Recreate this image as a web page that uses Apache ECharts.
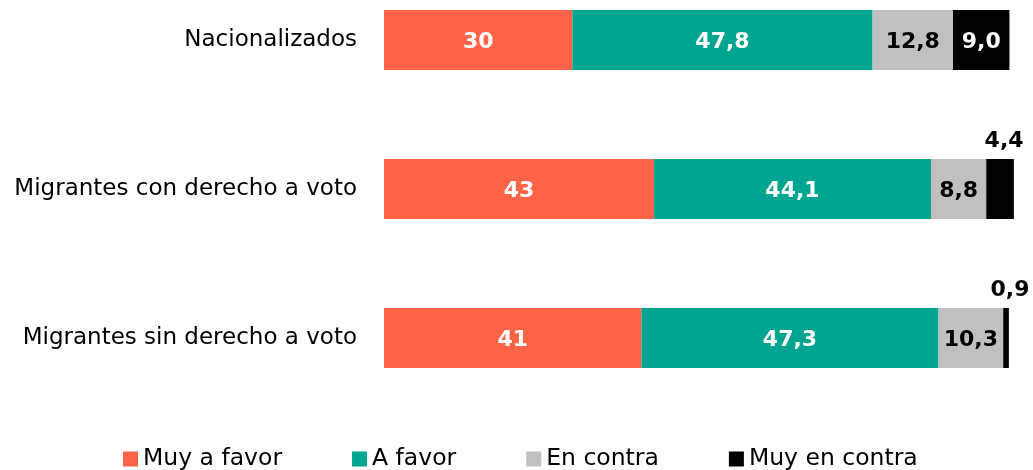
<!DOCTYPE html>
<html>
<head>
<meta charset="utf-8">
<script src="https://cdn.jsdelivr.net/npm/echarts@6/dist/echarts.min.js"></script>
<style>html,body{margin:0;padding:0;background:#fff}#c{width:1033px;height:470px}</style>
</head>
<body>
<div id="c"></div>
<script>
const categories = ['Nacionalizados', 'Migrantes con derecho a voto', 'Migrantes sin derecho a voto'];
const seriesNames = ['Muy a favor', 'A favor', 'En contra', 'Muy en contra'];
const muyAFavor = [30, 43, 41];
const aFavor = [47.8, 44.1, 47.3];
const enContra = [12.8, 8.8, 10.3];
const muyEnContra = [9.0, 4.4, 0.9];

const colors = ['#FF6347', '#00A591', '#C0C0C0', '#000000'];
const labelColors = ['#ffffff', '#ffffff', '#000000', '#ffffff'];
const values = [muyAFavor, aFavor, enContra, muyEnContra];
const FONT = 'DejaVu Sans';

function fmt(v, si) {
  return si === 0 ? String(Math.round(v)) : v.toFixed(1).replace('.', ',');
}

const series = values.map((arr, si) => ({
  name: seriesNames[si],
  type: 'bar',
  stack: 'total',
  barWidth: 60,
  clip: false,
  itemStyle: { color: colors[si] },
  label: {
    show: true,
    position: 'inside',
    color: labelColors[si],
    fontFamily: FONT,
    fontWeight: 'bold',
    fontSize: 22,
    offset: [0, 2],
    formatter: p => fmt(p.value, si)
  },
  data: arr.map(v => {
    if (v < 5) {
      return { value: v, label: { position: 'top', color: '#000', offset: [4, -2] } };
    }
    return v;
  })
}));

const chart = echarts.init(document.getElementById('c'));
chart.setOption({
  animation: false,
  grid: { left: 384, right: 21, top: 40, bottom: 132, containLabel: false },
  xAxis: {
    type: 'value', min: 0, max: 100,
    show: false
  },
  yAxis: {
    type: 'category',
    data: categories,
    inverse: true,
    boundaryGap: false,
    axisLine: { show: false },
    axisTick: { show: false },
    splitLine: { show: false },
    axisLabel: { fontFamily: FONT, fontSize: 23, color: '#000', margin: 27 }
  },
  legend: {
    data: seriesNames,
    top: 442,
    left: 118,
    icon: 'rect',
    itemWidth: 15,
    itemHeight: 15,
    itemGap: 70,
    textStyle: { fontFamily: FONT, fontSize: 23.5, color: '#000' }
  },
  series: series
});
</script>
</body>
</html>
